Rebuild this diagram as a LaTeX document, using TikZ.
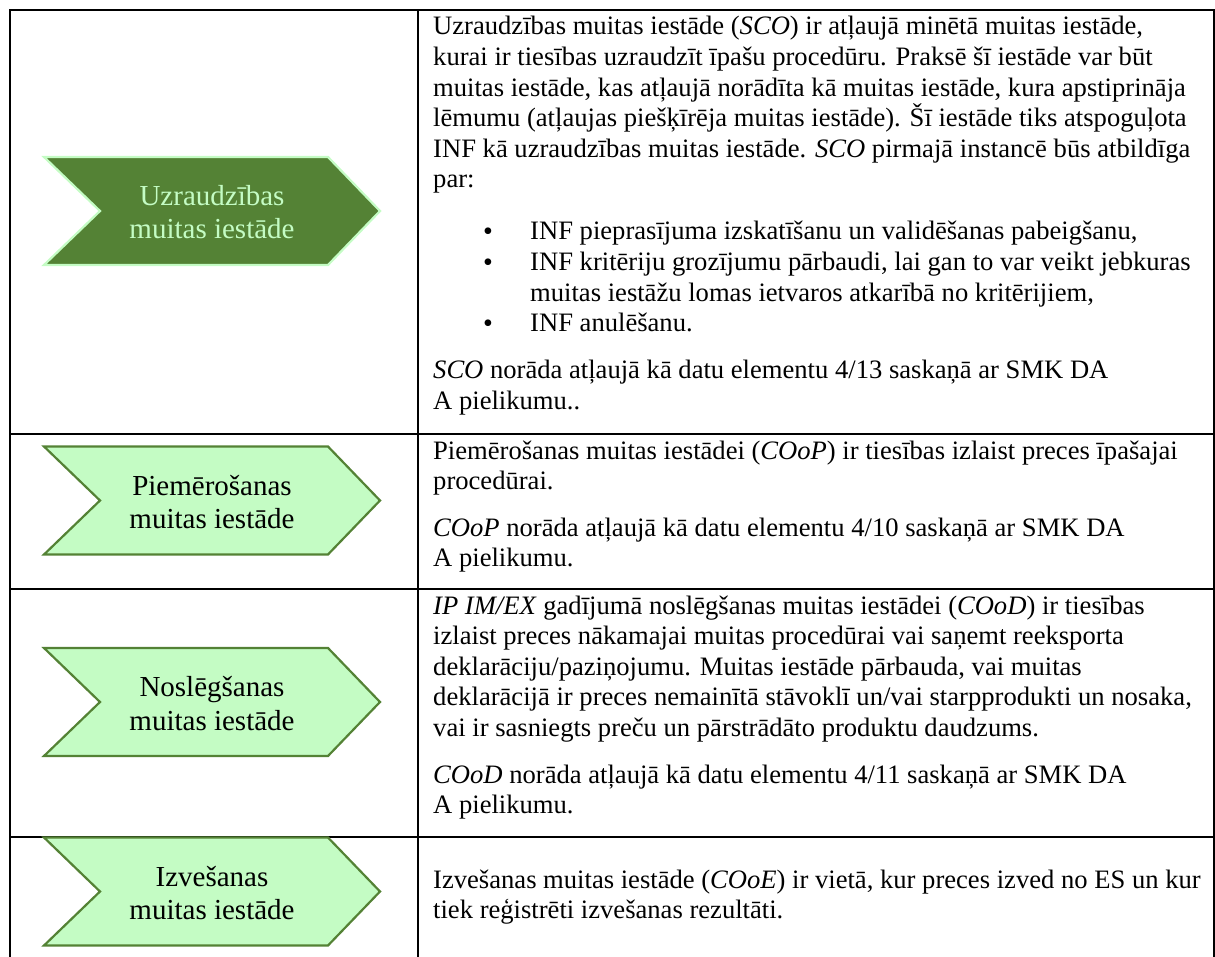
\documentclass[tikz,border=0pt]{standalone}
\usepackage{fontspec}
\setmainfont{Liberation Serif}
\definecolor{dkgreen}{HTML}{548235}
\definecolor{ltgreen}{HTML}{C4FCC4}
\tikzset{
  txt/.style={anchor=base west, inner sep=0pt, font=\fontsize{26.6}{30.6}\selectfont},
  bul/.style={anchor=base, inner sep=0pt, font=\fontsize{28}{28}\selectfont},
  lbl/.style={anchor=base, inner sep=0pt, font=\fontsize{29}{33.4}\selectfont},
  grid/.style={line width=2.2pt, black, line join=miter},
  chevdark/.style={fill=dkgreen, draw=ltgreen, line width=2.2pt},
  chevlight/.style={fill=ltgreen, draw=dkgreen, line width=2.2pt},
  pics/chevron/.style={code={
    \path[pic actions] (-168,-54) -- (116,-54) -- (168,0) -- (116,54) -- (-168,54) -- (-112,0) -- cycle;
  }}
}
\begin{document}
\begin{tikzpicture}[x=1pt,y=-1pt]
\useasboundingbox (0,0) rectangle (1215,957);
% table grid
\draw[grid] (10,957) -- (10,10) -- (1214,10) -- (1214,957);
\draw[grid] (418,10) -- (418,957);
\draw[grid] (10,434) -- (1214,434);
\draw[grid] (10,589) -- (1214,589);
\draw[grid] (10,837) -- (1214,837);
% chevrons
\pic[chevdark] at (212,211) {chevron};
\pic[chevlight] at (212,500.5) {chevron};
\pic[chevlight] at (212,702) {chevron};
\pic[chevlight] at (212,891.5) {chevron};
% chevron labels
\node[lbl, text=ltgreen] (a1a) at (212,205.6) {Uzraudzības};
\node[lbl, text=ltgreen] (a1b) at (212,239) {muitas iestāde};
\node[lbl] (a2a) at (212,495.1) {Piemērošanas};
\node[lbl] (a2b) at (212,528.5) {muitas iestāde};
\node[lbl] (a3a) at (212,696.6) {Noslēgšanas};
\node[lbl] (a3b) at (212,730) {muitas iestāde};
\node[lbl] (a4a) at (212,886.1) {Izvešanas};
\node[lbl] (a4b) at (212,919.5) {muitas iestāde};
% row 1 text
\node[txt] (r1l1) at (433,35) {Uzraudzības muitas iestāde (\textit{SCO}) ir atļaujā minētā muitas iestāde,};
\node[txt] (r1l2) at (433,65.6) {kurai ir tiesības uzraudzīt īpašu procedūru. Praksē šī iestāde var būt};
\node[txt] (r1l3) at (433,96.2) {muitas iestāde, kas atļaujā norādīta kā muitas iestāde, kura apstiprināja};
\node[txt] (r1l4) at (433,126.8) {lēmumu (atļaujas piešķīrēja muitas iestāde). Šī iestāde tiks atspoguļota};
\node[txt] (r1l5) at (433,157.4) {INF kā uzraudzības muitas iestāde. \textit{SCO} pirmajā instancē būs atbildīga};
\node[txt] (r1l6) at (433,188) {par:};
\node[bul] (b1) at (488,241) {•};
\node[txt] (r1b1) at (530,240) {INF pieprasījuma izskatīšanu un validēšanas pabeigšanu,};
\node[bul] (b2) at (488,271.6) {•};
\node[txt] (r1b2a) at (530,270.6) {INF kritēriju grozījumu pārbaudi, lai gan to var veikt jebkuras};
\node[txt] (r1b2b) at (530,301.2) {muitas iestāžu lomas ietvaros atkarībā no kritērijiem,};
\node[bul] (b3) at (488,332.8) {•};
\node[txt] (r1b3) at (530,331.8) {INF anulēšanu.};
\node[txt] (r1l7) at (433,378.4) {\textit{SCO} norāda atļaujā kā datu elementu 4/13 saskaņā ar SMK DA};
\node[txt] (r1l8) at (433,409) {A pielikumu..};
% row 2 text
\node[txt] (r2l1) at (433,459) {Piemērošanas muitas iestādei (\textit{COoP}) ir tiesības izlaist preces īpašajai};
\node[txt] (r2l2) at (433,489.6) {procedūrai.};
\node[txt] (r2l3) at (433,536.2) {\textit{COoP} norāda atļaujā kā datu elementu 4/10 saskaņā ar SMK DA};
\node[txt] (r2l4) at (433,566.8) {A pielikumu.};
% row 3 text
\node[txt] (r3l1) at (433,614) {\textit{IP IM/EX} gadījumā noslēgšanas muitas iestādei (\textit{COoD}) ir tiesības};
\node[txt] (r3l2) at (433,644.6) {izlaist preces nākamajai muitas procedūrai vai saņemt reeksporta};
\node[txt] (r3l3) at (433,675.2) {deklarāciju/paziņojumu. Muitas iestāde pārbauda, vai muitas};
\node[txt] (r3l4) at (433,705.8) {deklarācijā ir preces nemainītā stāvoklī un/vai starpprodukti un nosaka,};
\node[txt] (r3l5) at (433,736.4) {vai ir sasniegts preču un pārstrādāto produktu daudzums.};
\node[txt] (r3l6) at (433,783) {\textit{COoD} norāda atļaujā kā datu elementu 4/11 saskaņā ar SMK DA};
\node[txt] (r3l7) at (433,813.6) {A pielikumu.};
% row 4 text
\node[txt] (r4l1) at (433,888) {Izvešanas muitas iestāde (\textit{COoE}) ir vietā, kur preces izved no ES un kur};
\node[txt] (r4l2) at (433,918.6) {tiek reģistrēti izvešanas rezultāti.};
\end{tikzpicture}
\end{document}
